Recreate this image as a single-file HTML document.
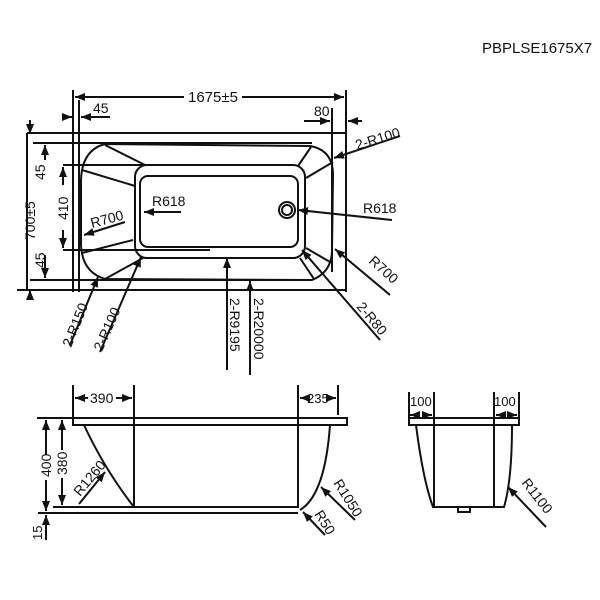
<!DOCTYPE html>
<html><head><meta charset="utf-8"><style>
html,body{margin:0;padding:0;background:#fff;width:600px;height:600px;overflow:hidden}
svg text{font-family:"Liberation Sans Narrow","Liberation Sans",sans-serif;fill:#111}
</style></head><body>
<svg width="600" height="600" viewBox="0 0 600 600" xmlns="http://www.w3.org/2000/svg">
<defs>
<marker id="a" viewBox="0 0 10 10" refX="10" refY="5" markerWidth="5" markerHeight="5" orient="auto-start-reverse"><path d="M0,1 L10,5 L0,9 z" fill="#111"/></marker>
</defs>
<g stroke="#111" fill="none" stroke-width="2">
<text x="482" y="53" font-size="15" stroke="none">PBPLSE1675X7</text>

<!-- top view -->
<line x1="73" y1="90" x2="73" y2="292"/>
<line x1="346" y1="90" x2="346" y2="292"/>
<line x1="79" y1="100" x2="79" y2="292"/>
<line x1="332" y1="108" x2="332" y2="272"/>
<line x1="75" y1="97" x2="184" y2="97" marker-start="url(#a)"/>
<line x1="242" y1="97" x2="344" y2="97" marker-end="url(#a)"/>
<text x="188" y="102" font-size="15" stroke="none">1675±5</text>
<line x1="62" y1="117" x2="72" y2="117" marker-end="url(#a)"/>
<line x1="110" y1="117" x2="81" y2="117" marker-end="url(#a)"/>
<text x="93" y="113" font-size="14" stroke="none">45</text>
<line x1="304" y1="121" x2="330" y2="121" marker-end="url(#a)"/>
<line x1="362" y1="121" x2="348" y2="121" marker-end="url(#a)"/>
<text x="314" y="116" font-size="14" stroke="none">80</text>
<line x1="27" y1="133" x2="346" y2="133"/>
<line x1="17" y1="290" x2="346" y2="290"/>
<line x1="33" y1="143" x2="312" y2="143"/>
<line x1="30" y1="280" x2="312" y2="280"/>
<path d="M105,144 L310,146 Q333,150 333,175 L332,250 Q332,272 312,280 L105,279 Q82,272 81,245 L81,180 Q82,150 105,144 Z"/>
<rect x="135" y="165" width="170" height="93" rx="12"/>
<rect x="140" y="176" width="158" height="71" rx="8"/>
<line x1="63" y1="165" x2="210" y2="165"/>
<line x1="63" y1="250" x2="210" y2="250"/>
<line x1="105" y1="145" x2="145" y2="165"/>
<line x1="82" y1="170" x2="135" y2="186"/>
<line x1="82" y1="253" x2="133" y2="240"/>
<line x1="105" y1="279" x2="143" y2="258"/>
<line x1="311" y1="147" x2="298" y2="166"/>
<line x1="333" y1="162" x2="306" y2="178"/>
<line x1="300" y1="258" x2="314" y2="279"/>
<line x1="306" y1="248" x2="330" y2="262"/>
<circle cx="287" cy="210" r="8"/><circle cx="287" cy="210" r="5"/>
<!-- left dims -->
<line x1="30" y1="120" x2="30" y2="134" marker-end="url(#a)"/>
<line x1="30" y1="300" x2="30" y2="290" marker-end="url(#a)"/>
<line x1="27" y1="133" x2="27" y2="290"/>
<text transform="translate(35,240) rotate(-90)" font-size="14" stroke="none">700±5</text>
<line x1="45" y1="160" x2="45" y2="145" marker-end="url(#a)"/>
<text transform="translate(45,180) rotate(-90)" font-size="14" stroke="none">45</text>
<line x1="45" y1="255" x2="45" y2="278" marker-end="url(#a)"/>
<text transform="translate(45,268) rotate(-90)" font-size="14" stroke="none">45</text>
<line x1="63" y1="185" x2="63" y2="167" marker-end="url(#a)"/>
<line x1="63" y1="230" x2="63" y2="248" marker-end="url(#a)"/>
<text transform="translate(68,220) rotate(-90)" font-size="14" stroke="none">410</text>
<!-- leaders -->
<line x1="181" y1="212" x2="144" y2="212" marker-end="url(#a)"/>
<text x="152" y="206" font-size="14" stroke="none">R618</text>
<line x1="125" y1="222" x2="84" y2="235" marker-end="url(#a)"/>
<text transform="translate(92,228) rotate(-15)" font-size="14" stroke="none">R700</text>
<line x1="400" y1="136" x2="334" y2="158" marker-end="url(#a)"/>
<text transform="translate(357,150) rotate(-17)" font-size="14" stroke="none">2-R100</text>
<line x1="392" y1="220" x2="298" y2="210" marker-end="url(#a)"/>
<text x="363" y="213" font-size="14" stroke="none">R618</text>
<line x1="390" y1="295" x2="335" y2="249" marker-end="url(#a)"/>
<text transform="translate(368,262) rotate(42)" font-size="14" stroke="none">R700</text>
<line x1="380" y1="340" x2="302" y2="250" marker-end="url(#a)"/>
<text transform="translate(356,307) rotate(50)" font-size="14" stroke="none">2-R80</text>
<line x1="227" y1="370" x2="227" y2="258" marker-end="url(#a)"/>
<text transform="translate(230,298) rotate(90)" font-size="14" stroke="none">2-R9195</text>
<line x1="250" y1="375" x2="250" y2="281" marker-end="url(#a)"/>
<text transform="translate(254,298) rotate(90)" font-size="14" stroke="none">2-R20000</text>
<line x1="70" y1="345" x2="98" y2="277" marker-end="url(#a)"/>
<text transform="translate(71,348) rotate(-68)" font-size="14" stroke="none">2-R150</text>
<line x1="100" y1="352" x2="141" y2="257" marker-end="url(#a)"/>
<text transform="translate(102,352) rotate(-66)" font-size="14" stroke="none">2-R100</text>

<!-- side view -->
<rect x="73" y="418" width="274" height="7"/>
<line x1="73" y1="385" x2="73" y2="418"/>
<line x1="134" y1="385" x2="134" y2="507"/>
<line x1="298" y1="385" x2="298" y2="508"/>
<line x1="338" y1="385" x2="338" y2="415"/>
<line x1="88" y1="398" x2="75" y2="398" marker-end="url(#a)"/>
<line x1="116" y1="398" x2="132" y2="398" marker-end="url(#a)"/>
<text x="90" y="403" font-size="14" stroke="none">390</text>
<line x1="307" y1="398" x2="300" y2="398" marker-end="url(#a)"/>
<line x1="330" y1="398" x2="336" y2="398" marker-end="url(#a)"/>
<text x="307" y="403" font-size="13" stroke="none">235</text>
<line x1="53" y1="507" x2="298" y2="507"/>
<line x1="38" y1="513" x2="298" y2="513"/>
<path d="M84,425 Q105,470 134,507"/>
<path d="M330,425 Q325,495 300,510"/>
<line x1="37" y1="418" x2="73" y2="418"/>
<line x1="46" y1="455" x2="46" y2="420" marker-end="url(#a)"/>
<line x1="46" y1="480" x2="46" y2="511" marker-end="url(#a)"/>
<text transform="translate(51,477) rotate(-90)" font-size="14" stroke="none">400</text>
<line x1="62" y1="450" x2="62" y2="420" marker-end="url(#a)"/>
<line x1="62" y1="478" x2="62" y2="505" marker-end="url(#a)"/>
<text transform="translate(67,475) rotate(-90)" font-size="14" stroke="none">380</text>
<line x1="46" y1="540" x2="46" y2="515" marker-end="url(#a)"/>
<text transform="translate(42,540) rotate(-90)" font-size="13" stroke="none">15</text>
<line x1="79" y1="504" x2="105" y2="472" marker-end="url(#a)"/>
<text transform="translate(80,497) rotate(-50)" font-size="14" stroke="none">R1260</text>
<line x1="355" y1="520" x2="321" y2="487" marker-end="url(#a)"/>
<text transform="translate(333,483) rotate(58)" font-size="14" stroke="none">R1050</text>
<line x1="325" y1="535" x2="303" y2="512" marker-end="url(#a)"/>
<text transform="translate(314,514) rotate(58)" font-size="14" stroke="none">R50</text>

<!-- end view -->
<rect x="409" y="418" width="110" height="7"/>
<line x1="409" y1="392" x2="409" y2="418"/>
<line x1="519" y1="392" x2="519" y2="418"/>
<line x1="434" y1="392" x2="434" y2="507"/>
<line x1="494" y1="392" x2="494" y2="507"/>
<path d="M416,425 Q423,480 433,507 L504,507 Q512,480 512,425"/>
<rect x="458" y="507" width="12" height="5"/>
<line x1="418" y1="415" x2="410" y2="415" marker-end="url(#a)"/>
<line x1="425" y1="415" x2="432" y2="415" marker-end="url(#a)"/>
<text x="410" y="406" font-size="13" stroke="none">100</text>
<line x1="502" y1="415" x2="496" y2="415" marker-end="url(#a)"/>
<line x1="510" y1="415" x2="517" y2="415" marker-end="url(#a)"/>
<text x="494" y="406" font-size="13" stroke="none">100</text>
<line x1="546" y1="527" x2="508" y2="487" marker-end="url(#a)"/>
<text transform="translate(521,483) rotate(52)" font-size="14" stroke="none">R1100</text>
</g>
</svg>
</body></html>
